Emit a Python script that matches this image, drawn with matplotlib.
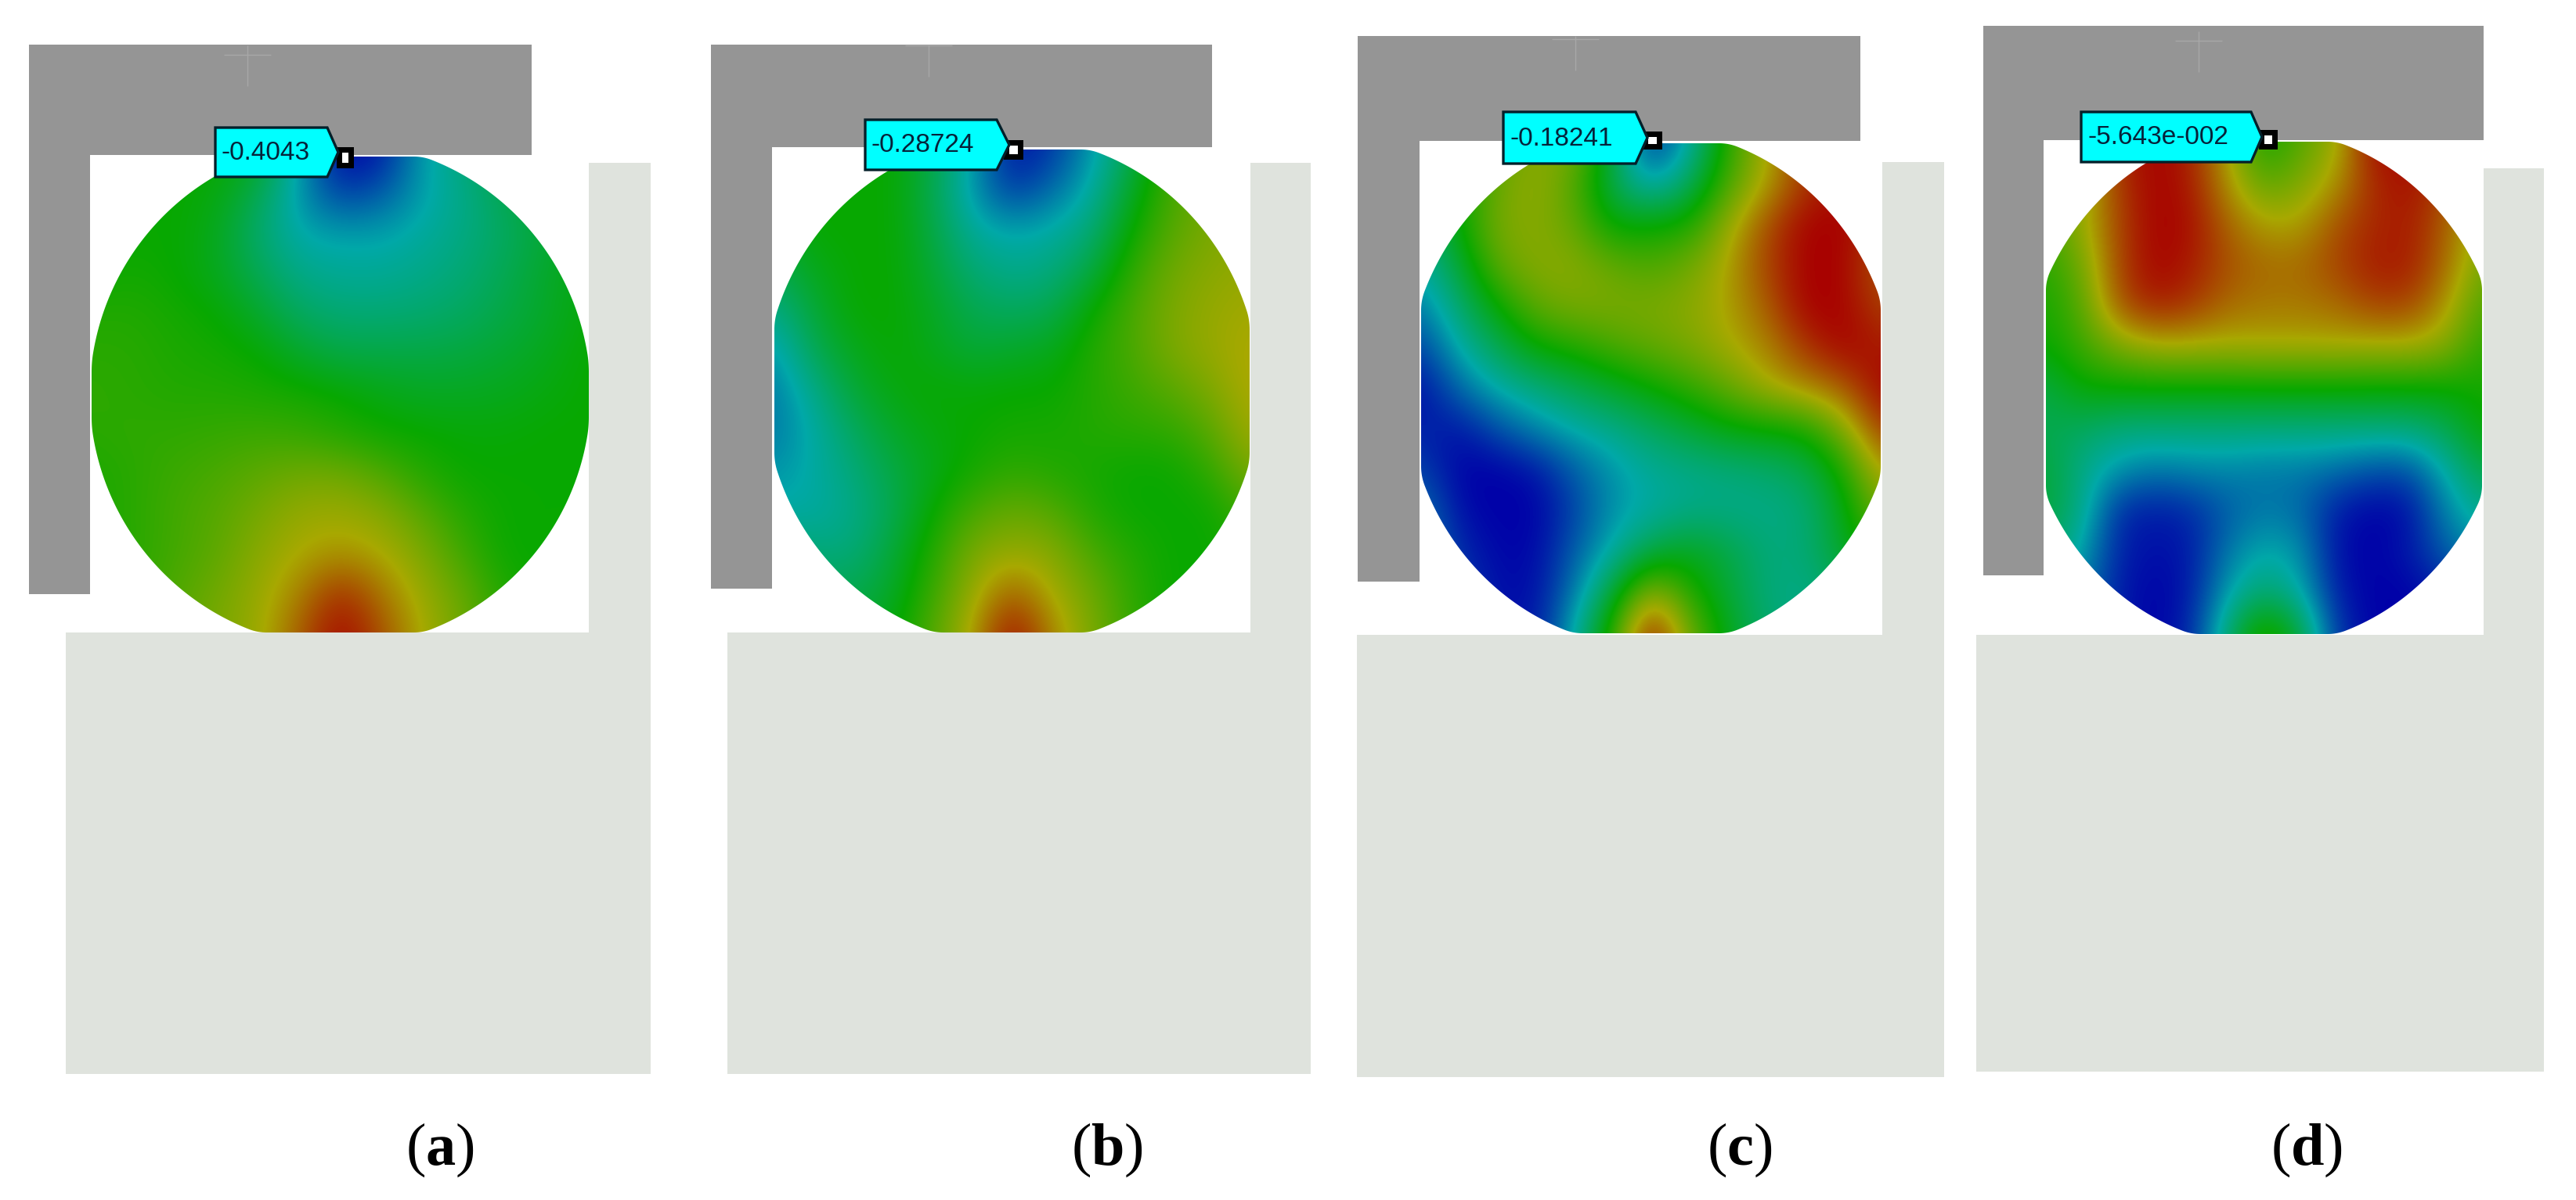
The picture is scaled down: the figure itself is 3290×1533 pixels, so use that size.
import numpy as np
import matplotlib
matplotlib.use("Agg")
import matplotlib.pyplot as plt
from matplotlib.colors import LinearSegmentedColormap
from matplotlib.patches import Polygon, Rectangle

plt.rcParams['mathtext.fontset'] = 'custom'
plt.rcParams['mathtext.rm'] = 'Liberation Serif'
plt.rcParams['mathtext.bf'] = 'Liberation Serif:bold'

# ---- data (field value 0 = deep blue ... 100 = red) ----
panel_letters = ['a', 'b', 'c', 'd']
probe_labels = ['-0.4043', '-0.28724', '-0.18241', '-5.643e-002']

field_a = [
    [50, 50, 50, 50, 46, 24, 0, 4, 24, 32, 42, 48, 50],
    [50, 50, 50, 48, 38, 22, 10, 14, 24, 30, 38, 44, 48],
    [50, 50, 50, 46, 34, 25, 24, 24, 27, 31, 36, 42, 48],
    [50, 52, 50, 46, 38, 30, 28, 28, 30, 33, 38, 44, 48],
    [54, 54, 52, 50, 44, 36, 33, 33, 34, 36, 40, 44, 49],
    [55, 55, 53, 52, 50, 44, 40, 40, 40, 41, 43, 46, 50],
    [56, 55, 54, 54, 53, 52, 50, 47, 45, 45, 46, 48, 50],
    [55, 56, 56, 57, 58, 57, 54, 51, 50, 49, 49, 50, 50],
    [53, 55, 58, 60, 63, 66, 66, 61, 54, 50, 50, 50, 50],
    [53, 55, 59, 62, 67, 72, 73, 70, 62, 54, 50, 50, 50],
    [52, 55, 59, 63, 70, 75, 78, 75, 68, 58, 50, 50, 50],
    [50, 56, 61, 66, 72, 80, 94, 82, 72, 64, 53, 50, 50],
    [50, 56, 62, 68, 72, 86, 100, 88, 74, 66, 54, 50, 50],
]
field_b = [
    [48, 48, 50, 50, 40, 24, 2, 8, 22, 38, 58, 64, 66],
    [46, 50, 50, 50, 38, 22, 8, 16, 26, 44, 60, 66, 68],
    [44, 50, 50, 50, 40, 27, 24, 26, 32, 50, 62, 68, 70],
    [38, 46, 50, 50, 42, 33, 29, 31, 40, 56, 66, 70, 72],
    [30, 42, 50, 50, 45, 38, 36, 38, 50, 60, 68, 72, 74],
    [22, 38, 46, 50, 46, 42, 44, 46, 54, 60, 68, 72, 76],
    [18, 30, 42, 48, 50, 49, 50, 50, 54, 58, 62, 68, 76],
    [18, 26, 36, 44, 48, 50, 52, 52, 54, 55, 56, 62, 74],
    [22, 26, 32, 40, 46, 52, 56, 54, 52, 50, 50, 56, 68],
    [26, 26, 30, 38, 50, 60, 65, 62, 54, 50, 50, 50, 60],
    [36, 32, 32, 42, 54, 68, 72, 70, 60, 54, 50, 50, 54],
    [42, 38, 38, 44, 58, 72, 86, 74, 66, 56, 50, 50, 50],
    [46, 42, 42, 48, 62, 76, 100, 80, 68, 57, 50, 50, 50],
]
field_c = [
    [50, 50, 62, 70, 68, 42, 6, 25, 55, 74, 92, 96, 96],
    [40, 48, 66, 72, 62, 38, 22, 36, 60, 76, 92, 98, 98],
    [32, 50, 68, 70, 64, 48, 50, 52, 72, 88, 100, 100, 92],
    [26, 42, 64, 70, 70, 64, 60, 66, 76, 90, 100, 100, 86],
    [18, 34, 50, 64, 68, 68, 68, 70, 76, 86, 100, 100, 90],
    [10, 26, 38, 50, 54, 60, 64, 68, 74, 80, 92, 100, 96],
    [2, 16, 26, 32, 38, 44, 50, 56, 64, 74, 80, 86, 100],
    [5, 3, 12, 20, 26, 30, 36, 42, 48, 50, 52, 68, 92],
    [10, 0, 0, 3, 14, 22, 28, 30, 32, 34, 38, 52, 78],
    [18, 2, 0, 0, 10, 22, 26, 30, 30, 30, 32, 46, 68],
    [20, 6, 1, 1, 14, 26, 40, 46, 40, 32, 32, 44, 56],
    [22, 10, 2, 2, 18, 42, 74, 54, 42, 32, 30, 36, 44],
    [22, 10, 3, 3, 26, 56, 100, 66, 46, 34, 30, 32, 36],
]
field_d = [
    [55, 70, 95, 100, 95, 75, 50, 62, 72, 100, 98, 95, 70],
    [58, 70, 92, 100, 96, 78, 62, 68, 78, 94, 98, 90, 72],
    [60, 72, 90, 100, 98, 85, 76, 76, 88, 94, 96, 86, 70],
    [55, 66, 90, 100, 96, 88, 84, 84, 90, 96, 96, 84, 66],
    [52, 62, 88, 96, 92, 84, 82, 82, 84, 90, 90, 78, 60],
    [50, 58, 68, 74, 74, 74, 75, 75, 75, 74, 74, 70, 55],
    [40, 50, 50, 50, 50, 50, 50, 50, 50, 50, 50, 50, 52],
    [38, 36, 32, 32, 32, 32, 32, 32, 32, 32, 32, 38, 50],
    [42, 30, 22, 18, 20, 20, 18, 18, 16, 12, 12, 26, 40],
    [42, 30, 6, 4, 6, 14, 18, 16, 4, 0, 2, 20, 30],
    [36, 24, 5, 2, 4, 18, 26, 22, 2, 0, 4, 14, 22],
    [32, 18, 4, 0, 4, 24, 34, 26, 4, 0, 0, 4, 14],
    [30, 16, 4, 0, 6, 34, 60, 42, 8, 0, 0, 4, 10],
]
fields = [field_a, field_b, field_c, field_d]

# ---- layout in reference pixels ----
W, H = 3290, 1533
# disc box: left, right, top, bottom; then half-axes of the ellipse cut by that box
discs = [(117, 752, 200, 808, 320, 322),
         (989, 1596, 191, 808, 316, 325),
         (1815, 2402, 183, 809, 312, 330),
         (2613, 3170, 181, 810, 306, 330)]
CORNER_ROUNDING = 25
# gray bracket: left, right, top, inner y, leg right, leg bottom
brackets = [(37, 679, 57, 198, 115, 759),
            (908, 1548, 57, 188, 986, 752),
            (1734, 2376, 46, 180, 1813, 743),
            (2533, 3172, 33, 179, 2610, 735)]
# light body: bottom-left x, wall left, right, wall top, floor top, bottom
bodies = [(84, 752, 831, 208, 808, 1372),
          (929, 1597, 1674, 208, 808, 1372),
          (1733, 2404, 2483, 207, 811, 1376),
          (2524, 3172, 3249, 215, 811, 1369)]
# callout: left, shoulder, tip, top, bottom, square l, square r, square t, square b
callouts = [(275, 418, 432, 163, 226, 430, 452, 188, 215),
            (1105, 1273, 1289, 153, 217, 1282, 1307, 179, 204),
            (1920, 2089, 2104, 143, 209, 2098, 2123, 168, 191),
            (2658, 2875, 2889, 143, 207, 2885, 2909, 166, 191)]
stars = [(316, 70), (1186, 58), (2012, 50), (2808, 52)]
label_x = [562, 1414, 2222, 2946]
label_y = 1488

GRAY = '#959595'
LIGHT = '#DFE3DD'
cmap = LinearSegmentedColormap.from_list(
    'fea', [(0, '#0000A8'), (.25, '#00A8A8'), (.5, '#08A800'), (.75, '#A8A800'), (1, '#A80000')])


def disc_outline(dl, dr, dt, db, oa, ob):
    """Ellipse cut by the disc box, with the cut corners slightly rounded."""
    t = np.linspace(0, 2 * np.pi, 4001)[:-1]
    cx, cy = (dl + dr) / 2, (dt + db) / 2
    px = np.clip(cx + oa * np.cos(t), dl, dr)
    py = np.clip(cy + ob * np.sin(t), dt, db)
    step = 2 * np.pi * oa / len(t)
    n = max(1, int(CORNER_ROUNDING / step))
    kernel = np.ones(n) / n
    sx = np.convolve(np.r_[px[-n:], px, px[:n]], kernel, mode='same')[n:-n]
    sy = np.convolve(np.r_[py[-n:], py, py[:n]], kernel, mode='same')[n:-n]
    return np.column_stack([sx, sy])


fig = plt.figure(figsize=(W / 100, H / 100), dpi=100)
ax = fig.add_axes([0, 0, 1, 1])

for i in range(4):
    # geometry
    gl, gr, gt, gi, lr, lb = brackets[i]
    ax.add_patch(Polygon([(gl, gt), (gr, gt), (gr, gi), (lr, gi), (lr, lb), (gl, lb)],
                         closed=True, fc=GRAY, ec='none', zorder=1))
    bl, wl, br, wt, ft, bb = bodies[i]
    ax.add_patch(Polygon([(wl, wt), (br, wt), (br, bb), (bl, bb), (bl, ft), (wl, ft)],
                         closed=True, fc=LIGHT, ec='none', zorder=1))
    # star
    sx, sy = stars[i]
    ax.plot([sx - 30, sx + 30], [sy, sy], color='#A8A8A8', lw=1.0, zorder=2, solid_capstyle='butt')
    ax.plot([sx, sx], [max(sy - 12, gt), sy + 40], color='#A8A8A8', lw=1.0, zorder=2, solid_capstyle='butt')
    # disc field
    dl, dr, dt, db, oa, ob = discs[i]
    Z = np.array(fields[i], dtype=float)
    nr, nc = Z.shape
    dx, dy = (dr - dl) / (nc - 1), (db - dt) / (nr - 1)
    im = ax.imshow(Z, cmap=cmap, vmin=0, vmax=100, interpolation='bicubic', aspect='auto',
                   origin='upper', extent=(dl - dx / 2, dr + dx / 2, db + dy / 2, dt - dy / 2), zorder=3)
    clip = Polygon(disc_outline(dl, dr, dt, db, oa, ob), closed=True, transform=ax.transData)
    im.set_clip_path(clip)
    # callout
    cl, cs, ctip, ct, cb, sl, sr, st, sb = callouts[i]
    ax.add_patch(Rectangle((sl, st), sr - sl, sb - st, fc='#000000', ec='none', zorder=4))
    m = 7
    ax.add_patch(Rectangle((sl + m, st + m), sr - sl - 2 * m, sb - st - 2 * m, fc='white', ec='none', zorder=5))
    ax.add_patch(Polygon([(cl, ct), (cs, ct), (ctip, (ct + cb) / 2), (cs, cb), (cl, cb)],
                         closed=True, fc='#00FFFF', ec='#04202A', lw=2.4, zorder=6))
    ax.text(cl + 8, (ct + cb) / 2 + 1, probe_labels[i], family='Liberation Sans', fontsize=24,
            color='#06233A', ha='left', va='center', zorder=7)
    # panel label
    ax.text(label_x[i], label_y, '(' + r'$\mathbf{' + panel_letters[i] + r'}$' + ')',
            family='Liberation Serif', fontsize=55, color='black', ha='center', va='baseline', zorder=7)

ax.set_xlim(0, W)
ax.set_ylim(H, 0)
ax.axis('off')
fig.savefig('out.png', dpi=100, facecolor='white')
